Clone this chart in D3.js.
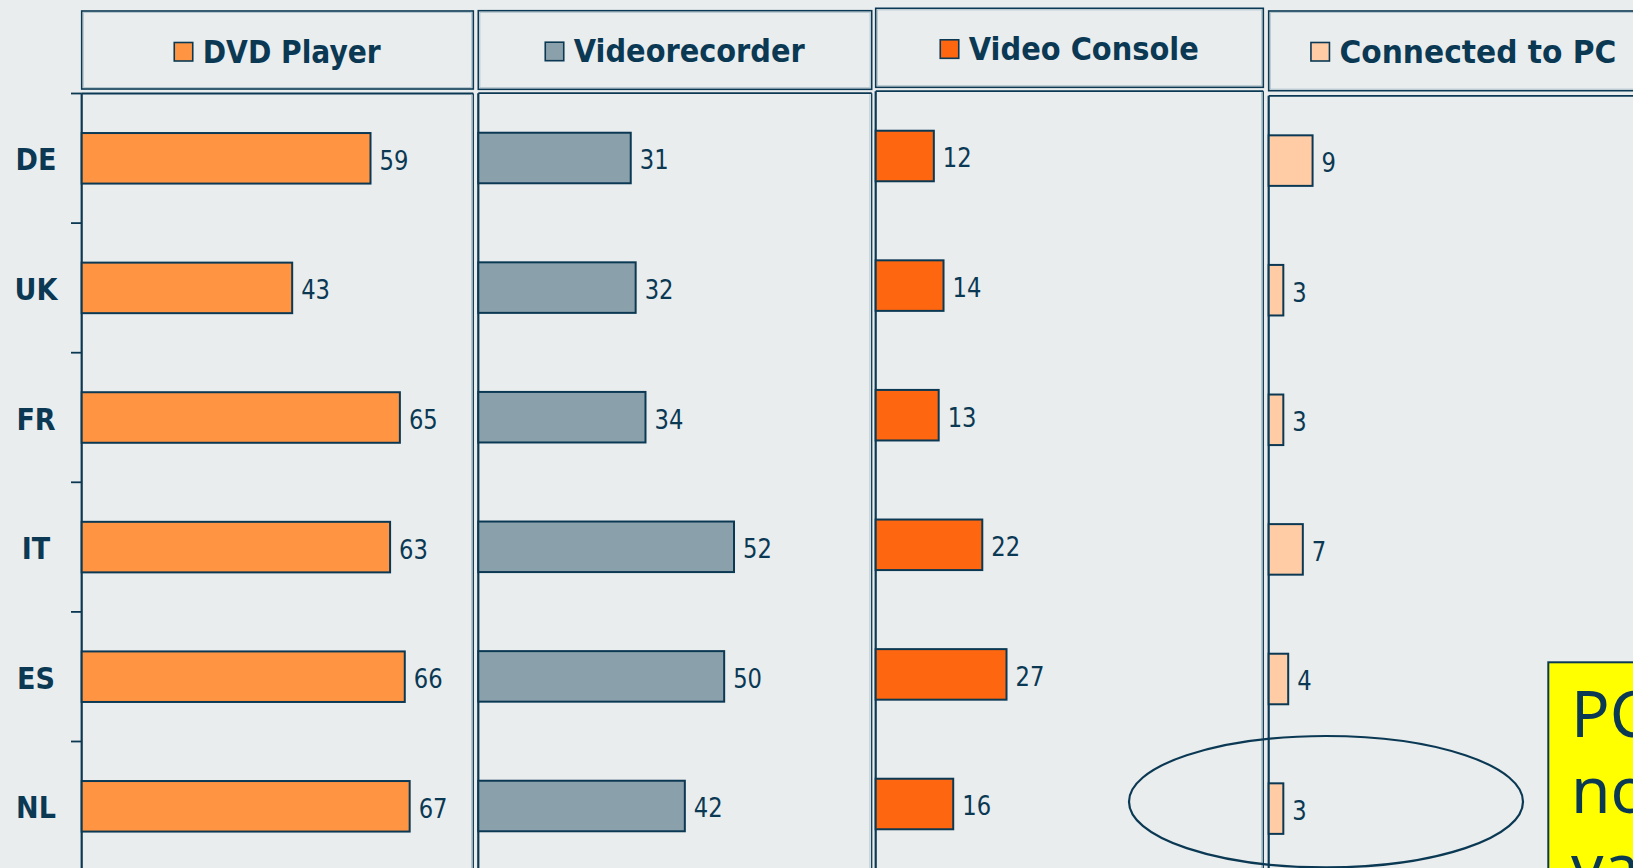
<!DOCTYPE html>
<html>
<head>
<meta charset="utf-8">
<script src="https://cdn.jsdelivr.net/npm/d3@7"></script>
<style>
  html, body { margin: 0; padding: 0; background: #e9edee; overflow: hidden; }
  svg { display: block; }
</style>
</head>
<body>
<svg id="chart" width="1633" height="868"></svg>
<script>
// ---------------- data ----------------
const categories = ["DE", "UK", "FR", "IT", "ES", "NL"];
const seriesNames = ["DVD Player", "Videorecorder", "Video Console", "Connected to PC"];
const dvdPlayer = [59, 43, 65, 63, 66, 67];
const videorecorder = [31, 32, 34, 52, 50, 42];
const videoConsole = [12, 14, 13, 22, 27, 16];
const connectedToPC = [9, 3, 3, 7, 4, 3];
const xDomain = [0, 80];
const noteLines = ["PC", "not", "valid"];

// ---------------- style / layout ----------------
const NAVY = "#0b3954";
const BG = "#e9edee";
const seriesColors = ["#ff9442", "#8aa0aa", "#ff6610", "#ffcca6"];
const seriesValues = [dvdPlayer, videorecorder, videoConsole, connectedToPC];
const panels = [
  { x: 81.7,   w: 391.6, dy: 0,    hTop: 11,   hBot: 89,   titleW: 178 },
  { x: 478.3,  w: 393.4, dy: -0.3, hTop: 10.7, hBot: 89.3, titleW: 231 },
  { x: 875.7,  w: 387.6, dy: -2.3, hTop: 8.3,  hBot: 87.3, titleW: 230 },
  { x: 1268.7, w: 390,   dy: 2.3,  hTop: 11,   hBot: 90.7, titleW: 277 }
];
const plotTop = 93.5;
const step = 129.6;

const svg = d3.select("#chart");
svg.append("rect").attr("width", 1633).attr("height", 868).attr("fill", BG);

const y = d3.scaleBand()
  .domain(categories)
  .range([plotTop, plotTop + step * categories.length])
  .paddingInner(0.61)
  .paddingOuter(0.305);

// Left axis ticks (at band boundaries) and category labels
const axisG = svg.append("g");
axisG.selectAll("line.tick")
  .data(categories)
  .join("line")
  .attr("class", "tick")
  .attr("x1", 71).attr("x2", panels[0].x)
  .attr("y1", d => y(d) + y.bandwidth() / 2 - y.step() / 2)
  .attr("y2", d => y(d) + y.bandwidth() / 2 - y.step() / 2)
  .attr("stroke", NAVY).attr("stroke-width", 1.8);

const catLabels = axisG.selectAll("text.cat")
  .data(categories)
  .join("text")
  .attr("class", "cat")
  .attr("x", 36)
  .attr("y", d => y(d) + y.bandwidth() / 2 + 12)
  .attr("text-anchor", "middle")
  .attr("font-family", "DejaVu Sans, Verdana, sans-serif")
  .attr("font-weight", "bold")
  .attr("font-size", 30)
  .attr("fill", NAVY)
  .text(d => d);
catLabels.each(function () {
  const L = this.getComputedTextLength();
  d3.select(this).attr("textLength", L * 0.9).attr("lengthAdjust", "spacingAndGlyphs");
});

panels.forEach((p, i) => {
  const g = svg.append("g").attr("transform", `translate(0,${p.dy})`);
  const x = d3.scaleLinear().domain(xDomain).range([p.x, p.x + p.w]);

  // header box
  svg.append("rect")
    .attr("x", p.x).attr("y", p.hTop)
    .attr("width", p.w).attr("height", p.hBot - p.hTop)
    .attr("fill", "none").attr("stroke", NAVY).attr("stroke-width", 1.6);
  svg.append("rect")
    .attr("x", p.x + 1.6).attr("y", p.hTop + 1.6)
    .attr("width", p.w - 3.2).attr("height", p.hBot - p.hTop - 3.2)
    .attr("fill", "none").attr("stroke", "#a9bcc5").attr("stroke-width", 0.8);

  // header legend
  const baseline = p.hTop + 51.5;
  const sq = 18.5, gap = 10;
  const total = sq + gap + p.titleW;
  const gx = p.x + p.w / 2 - total / 2;
  svg.append("rect")
    .attr("x", gx).attr("y", baseline - 1.5 - sq)
    .attr("width", sq).attr("height", sq)
    .attr("fill", seriesColors[i]).attr("stroke", NAVY).attr("stroke-width", 1.6);
  svg.append("text")
    .attr("x", gx + sq + gap).attr("y", baseline)
    .attr("font-family", "DejaVu Sans, Verdana, sans-serif")
    .attr("font-weight", "bold").attr("font-size", 32)
    .attr("fill", NAVY)
    .attr("textLength", p.titleW).attr("lengthAdjust", "spacingAndGlyphs")
    .text(seriesNames[i]);

  // plot frame
  const bottom = plotTop + step * categories.length + 10;
  g.append("line").attr("x1", p.x).attr("x2", p.x + p.w)
    .attr("y1", plotTop).attr("y2", plotTop)
    .attr("stroke", NAVY).attr("stroke-width", 1.8);
  g.append("line").attr("x1", p.x + p.w).attr("x2", p.x + p.w)
    .attr("y1", plotTop).attr("y2", bottom)
    .attr("stroke", NAVY).attr("stroke-width", 1.3);
  g.append("line").attr("x1", p.x + p.w - 1.8).attr("x2", p.x + p.w - 1.8)
    .attr("y1", plotTop + 1).attr("y2", bottom)
    .attr("stroke", "#a9bcc5").attr("stroke-width", 0.8);
  g.append("line").attr("x1", p.x).attr("x2", p.x)
    .attr("y1", plotTop).attr("y2", bottom)
    .attr("stroke", NAVY).attr("stroke-width", 2.2);

  const rows = categories.map((c, k) => ({ c, v: seriesValues[i][k] }));

  g.selectAll("rect.bar")
    .data(rows)
    .join("rect")
    .attr("class", "bar")
    .attr("x", x(0))
    .attr("y", d => y(d.c))
    .attr("width", d => x(d.v) - x(0))
    .attr("height", y.bandwidth())
    .attr("fill", seriesColors[i])
    .attr("stroke", NAVY).attr("stroke-width", 2);

  const vals = g.selectAll("text.val")
    .data(rows)
    .join("text")
    .attr("class", "val")
    .attr("x", d => x(d.v) + 9)
    .attr("y", d => y(d.c) + y.bandwidth() / 2 + 11.5)
    .attr("font-family", "DejaVu Sans, Verdana, sans-serif")
    .attr("font-size", 27)
    .attr("fill", NAVY)
    .text(d => d.v);
  vals.each(function () {
    const L = this.getComputedTextLength();
    d3.select(this).attr("textLength", L * 0.84).attr("lengthAdjust", "spacingAndGlyphs");
  });
});

// annotation ellipse
svg.append("ellipse")
  .attr("cx", 1326).attr("cy", 801.7)
  .attr("rx", 197).attr("ry", 65.7)
  .attr("fill", "none").attr("stroke", NAVY).attr("stroke-width", 2.2);

// yellow note box
const note = svg.append("g");
note.append("rect")
  .attr("x", 1548.3).attr("y", 662.3)
  .attr("width", 200).attr("height", 300)
  .attr("fill", "#ffff00").attr("stroke", NAVY).attr("stroke-width", 2);
note.selectAll("text")
  .data(noteLines)
  .join("text")
  .attr("x", 1571)
  .attr("y", (d, k) => 736.7 + k * 76.7)
  .attr("font-family", "Noto Sans, Open Sans, sans-serif")
  .attr("font-size", 64)
  .attr("fill", NAVY)
  .text(d => d);
</script>
</body>
</html>
